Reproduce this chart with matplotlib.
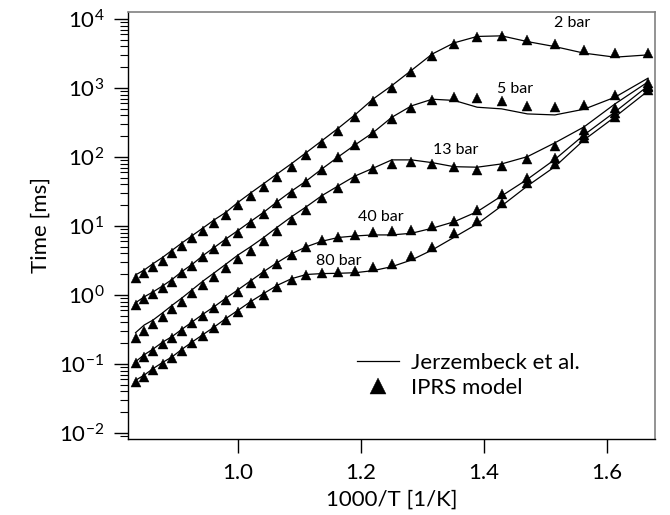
import numpy as np
import matplotlib
matplotlib.use("Agg")
import matplotlib.pyplot as plt
from matplotlib.ticker import LogLocator, FixedLocator, NullLocator

plt.rcParams['font.family'] = ['Lato', 'DejaVu Sans']
plt.rcParams['mathtext.fontset'] = 'custom'
plt.rcParams['mathtext.rm'] = 'Lato'
plt.rcParams['mathtext.it'] = 'Lato:italic'
plt.rcParams['mathtext.bf'] = 'Lato:bold'

# temperatures of the points [K], plotted as 1000/T
temps = [1200, 1180, 1160, 1140, 1120, 1100, 1080, 1060, 1040, 1020, 1000,
         980, 960, 940, 920, 900, 880, 860, 840, 820, 800,
         780, 760, 740, 720, 700, 680, 660, 640, 620, 600]

pressures = ['2 bar', '5 bar', '13 bar', '40 bar', '80 bar']

# IPRS model (triangles) [ms]
iprs_2 = [1.75, 2.06, 2.57, 3.14, 4.02, 5.13, 6.64, 8.55, 11.2, 14.4, 20,
          27, 37, 51, 72, 105, 158, 240, 385, 640, 1000,
          1700, 2900, 4300, 5500, 5600, 4900, 4300, 3600, 3200, 3200]
iprs_5 = [0.716, 0.867, 1.03, 1.25, 1.56, 2.06, 2.63, 3.52, 4.59, 6.12, 8.0,
          10.9, 14.9, 21.3, 30.4, 43, 65, 99, 149, 220, 351,
          508, 670, 748, 720, 649, 548, 525, 567, 792, 1170]
iprs_13 = [0.236, 0.30, 0.38, 0.48, 0.62, 0.80, 1.05, 1.40, 1.85, 2.45, 3.3,
           4.4, 6.0, 8.4, 12.0, 17.1, 25, 35, 49, 66, 79,
           85, 79, 71, 65, 74, 93, 144, 246, 508, 1080]
iprs_40 = [0.102, 0.128, 0.156, 0.195, 0.236, 0.304, 0.389, 0.497, 0.641, 0.847, 1.12,
           1.51, 2.06, 2.81, 3.80, 4.91, 6.3, 7.0, 7.41, 8.26, 8.55,
           8.75, 10.0, 11.9, 17.1, 29.1, 49.1, 95, 208, 430, 1016]
iprs_80 = [0.0554, 0.0654, 0.0818, 0.100, 0.121, 0.156, 0.200, 0.255, 0.329, 0.435, 0.573,
           0.758, 1.0, 1.32, 1.65, 1.95, 2.08, 2.18, 2.25, 2.52, 2.81,
           3.67, 5.01, 7.83, 11.9, 21.3, 41.6, 79, 187, 384, 935]

# Jerzembeck et al. (lines) [ms]
jerz_2 = [1.95, 2.3, 2.85, 3.5, 4.45, 5.7, 7.3, 9.4, 12.3, 15.8, 22,
          30, 41, 57, 80, 116, 172, 260, 410, 690, 1080,
          1800, 3100, 4500, 5570, 5680, 4690, 3970, 3190, 2790, 3010]
jerz_5 = [0.77, 0.94, 1.11, 1.35, 1.68, 2.2, 2.8, 3.75, 4.9, 6.5, 8.6,
          11.6, 15.8, 22.5, 32, 45, 67, 100, 150, 225, 375,
          550, 686, 659, 525, 497, 420, 406, 491, 733, 1384]
jerz_13 = [0.284, 0.367, 0.435, 0.55, 0.71, 0.91, 1.2, 1.6, 2.1, 2.8, 3.8,
           5.0, 6.8, 9.6, 13.6, 19, 27.5, 38, 53, 68.6, 90.6,
           90.6, 82.6, 72.2, 71, 79.2, 101, 160, 272, 586, 1222]
jerz_40 = [0.108, 0.136, 0.165, 0.207, 0.25, 0.32, 0.41, 0.53, 0.68, 0.9, 1.19,
           1.6, 2.18, 2.95, 3.95, 5.0, 6.0, 6.8, 7.16, 7.41, 7.41,
           7.83, 9.27, 11.5, 16.1, 27.2, 47.5, 92, 208, 449, 1069]
jerz_80 = [0.058, 0.069, 0.086, 0.105, 0.127, 0.164, 0.21, 0.268, 0.345, 0.457, 0.6,
           0.8, 1.05, 1.38, 1.72, 1.98, 2.04, 2.06, 2.10, 2.25, 2.57,
           3.21, 4.49, 6.85, 10.7, 19.5, 38, 72.2, 176, 380, 905]

iprs = [iprs_2, iprs_5, iprs_13, iprs_40, iprs_80]
jerz = [jerz_2, jerz_5, jerz_13, jerz_40, jerz_80]

# label anchors (1000/T, time)
label_x = [1.514, 1.421, 1.317, 1.195, 1.127]
label_y = [8750, 968, 126, 13.5, 3.11]

x_ticks = [1.0, 1.2, 1.4, 1.6]
y_ticks = [1e-2, 1e-1, 1e0, 1e1, 1e2, 1e3, 1e4]

x = 1000.0 / np.array(temps)

fig = plt.figure(figsize=(6.7, 5.15), dpi=100)
ax = fig.add_axes([0.191, 0.1476, 0.7866, 0.8291])

for i in range(len(pressures)):
    ax.plot(x, jerz[i], color='black', lw=0.9,
            label='Jerzembeck et al.' if i == 0 else None)
    ax.plot(x, iprs[i], ls='none', marker='^', ms=7.8, color='black',
            mec='black', mew=0.3, label='IPRS model' if i == 0 else None)
    ax.text(label_x[i], label_y[i], pressures[i], fontsize=11.5,
            ha='left', va='center')

ax.set_yscale('log')
ax.set_xlim(0.821, 1.678)
ax.set_ylim(10**-2.087, 10**4.1)

ax.xaxis.set_major_locator(FixedLocator(x_ticks))
ax.xaxis.set_minor_locator(NullLocator())
ax.yaxis.set_major_locator(FixedLocator(y_ticks))
ax.yaxis.set_minor_locator(LogLocator(base=10, subs=np.arange(2, 10), numticks=20))

ax.tick_params(axis='both', which='major', direction='out', length=10, width=1,
               labelsize=16, pad=7)
ax.tick_params(axis='y', which='minor', direction='out', length=5.5, width=0.8,
               labelleft=False)
ax.tick_params(top=False, right=False)

for s in ['left', 'bottom']:
    ax.spines[s].set_color('black')
    ax.spines[s].set_linewidth(1.0)
for s in ['top', 'right']:
    ax.spines[s].set_color('#808080')
    ax.spines[s].set_linewidth(1.2)

ax.set_xlabel('1000/T [1/K]', fontsize=16, labelpad=5)
ax.set_ylabel('Time [ms]', fontsize=16, labelpad=6)

ax.legend(loc='upper left', bbox_to_anchor=(0.435, 0.201), frameon=False,
          fontsize=16, handlelength=1.9, handletextpad=0.5, labelspacing=0.2,
          borderpad=0, borderaxespad=0, markerscale=1.5)

fig.savefig('out.png', dpi=100)
